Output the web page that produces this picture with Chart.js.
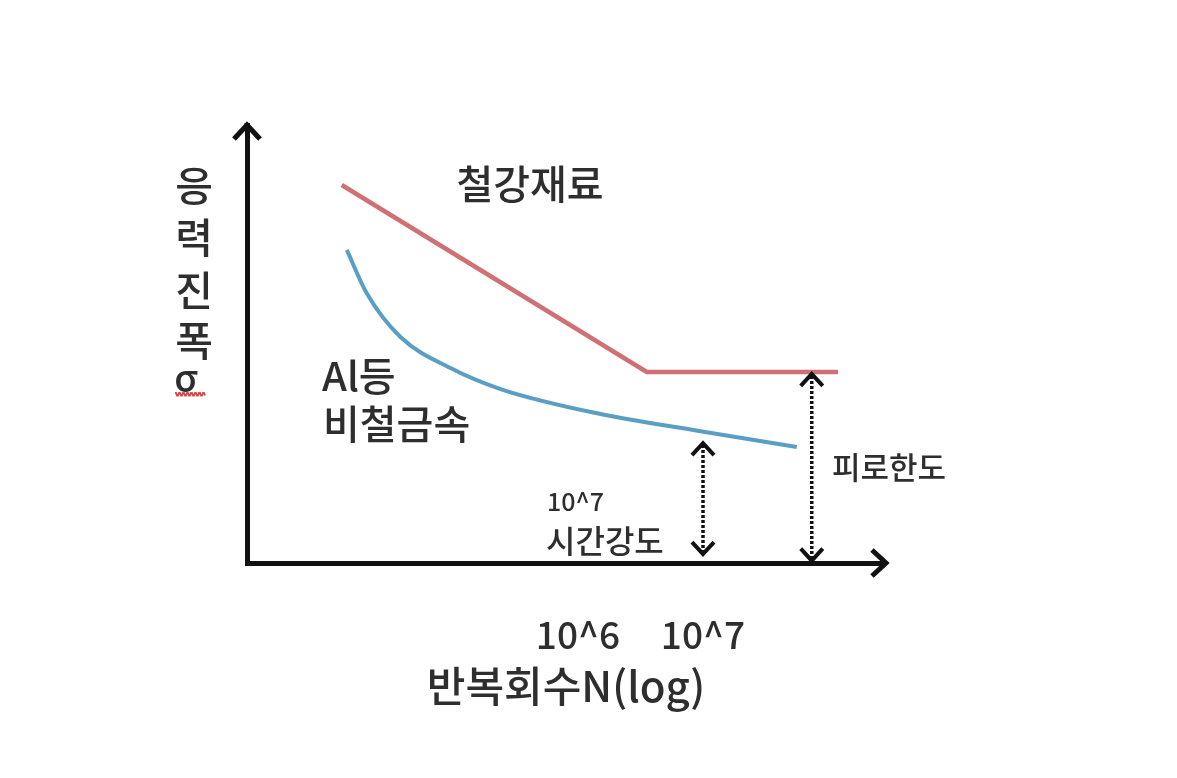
<!DOCTYPE html>
<html><head><meta charset="utf-8">
<script src="https://cdn.jsdelivr.net/npm/chart.js@4.4.0/dist/chart.umd.min.js"></script>
<style>html,body{margin:0;padding:0;background:#fff}#wrap{width:1177px;height:778px}</style>
</head><body><div id="wrap"><canvas id="c" width="1177" height="778"></canvas></div>
<script>
// ---- data (x = log10 N, y = stress amplitude, schematic units) ----
const steelLogN = [4.11, 6.55, 8.08];
const steelStress = [86.3, 43.6, 43.6];
const alLogN = [4.15, 4.31, 4.58, 4.98, 5.38, 6.18, 6.98, 7.75];
const alStress = [71.5, 61.6, 51.6, 44.5, 39.7, 34.0, 30.1, 26.5];
const tickLogN = [6, 7];
const tickLabels = ['10^6', '10^7'];
const limitArrowLogN = [7.0, 7.87];
const limitArrowTop = [27.6, 43.4];
const limitArrowBottom = [1.8, 0.3];
const yTitleChars = ['응', '력', '진', '폭', 'σ'];
const xTitle = '반복회수N(log)';

const FONT = '"Noto Sans CJK KR", "Noto Sans", sans-serif';
const TEXT = '#2e2e2e';
const W = '500 ';

const overlay = {
  id: 'overlay',
  afterDraw(chart) {
    const {ctx, chartArea: a, scales: {x, y}} = chart;
    ctx.save();
    // axis arrowheads
    ctx.strokeStyle = '#111';
    ctx.lineWidth = 5;
    ctx.lineJoin = 'miter';
    ctx.lineCap = 'butt';
    ctx.beginPath();
    ctx.moveTo(a.left, a.top + 4); ctx.lineTo(a.left, a.top - 2);
    ctx.stroke();
    ctx.beginPath();
    ctx.moveTo(a.left - 13, a.top + 14); ctx.lineTo(a.left, a.top); ctx.lineTo(a.left + 13, a.top + 14);
    ctx.stroke();
    ctx.beginPath();
    ctx.moveTo(a.right - 4, a.bottom); ctx.lineTo(a.right + 1, a.bottom);
    ctx.stroke();
    ctx.beginPath();
    ctx.moveTo(a.right - 13, a.bottom - 13); ctx.lineTo(a.right + 1, a.bottom); ctx.lineTo(a.right - 13, a.bottom + 13);
    ctx.stroke();

    // dashed double arrows
    limitArrowLogN.forEach((v, i) => {
      const px = x.getPixelForValue(v);
      const t = y.getPixelForValue(limitArrowTop[i]);
      const b = y.getPixelForValue(limitArrowBottom[i]);
      ctx.strokeStyle = '#111';
      ctx.lineWidth = 3.5;
      ctx.setLineDash([3, 2]);
      ctx.beginPath(); ctx.moveTo(px, t + 3); ctx.lineTo(px, b - 3); ctx.stroke();
      ctx.setLineDash([]);
      ctx.lineWidth = 4;
      ctx.beginPath(); ctx.moveTo(px - 11, t + 13); ctx.lineTo(px, t + 1); ctx.lineTo(px + 11, t + 13); ctx.stroke();
      ctx.beginPath(); ctx.moveTo(px - 11, b - 13); ctx.lineTo(px, b - 1); ctx.lineTo(px + 11, b - 13); ctx.stroke();
    });

    // texts
    ctx.fillStyle = TEXT;
    ctx.textBaseline = 'middle';
    const put = (txt, px, py, size, align) => {
      ctx.font = W + size + 'px ' + FONT;
      ctx.textAlign = align || 'left';
      ctx.fillText(txt, px, py);
    };
    put('철강재료', 530, 184, 40, 'center');
    put('Al등', 322, 376, 40);
    put('비철금속', 323, 424, 40);
    put('10^7', 547, 501, 25);
    put('시간강도', 546, 541, 32);
    put('피로한도', 832, 467, 31);
    const yc = [185, 237, 290, 340, 378];
    yTitleChars.forEach((ch, i) => {
      if (ch === 'σ') put(ch, 186, yc[i], 38, 'center');
      else put(ch, 194, yc[i], 41, 'center');
    });
    // spell-check squiggle under sigma
    ctx.strokeStyle = '#d84848';
    ctx.lineWidth = 1.8;
    ctx.beginPath();
    for (let k = 0; k <= 30; k++) {
      const sx = 175 + k, sy = 393 + (k % 4 < 2 ? 0 : 2.5);
      if (k === 0) ctx.moveTo(sx, sy); else ctx.lineTo(sx, sy);
    }
    ctx.stroke();
    ctx.restore();
  }
};

new Chart(document.getElementById('c'), {
  type: 'line',
  data: {
    datasets: [
      {
        label: '철강재료',
        data: steelLogN.map((v, i) => ({x: v, y: steelStress[i]})),
        borderColor: '#cf7074',
        borderWidth: 4.5,
        pointRadius: 0,
        tension: 0
      },
      {
        label: 'Al등 비철금속',
        data: alLogN.map((v, i) => ({x: v, y: alStress[i]})),
        borderColor: '#5a9ec4',
        borderWidth: 4,
        pointRadius: 0,
        cubicInterpolationMode: 'monotone'
      }
    ]
  },
  options: {
    responsive: false,
    animation: false,
    devicePixelRatio: 1,
    layout: {padding: {top: 125, right: 292, left: 0, bottom: 0}},
    plugins: {legend: {display: false}, tooltip: {enabled: false}},
    scales: {
      x: {
        type: 'linear',
        min: 3.352, max: 8.456,
        grid: {display: false},
        border: {display: true, color: '#111', width: 5},
        afterBuildTicks: s => { s.ticks = tickLogN.map(v => ({value: v})); },
        afterFit: s => { s.height = 215; },
        ticks: {
          padding: 42,
          color: TEXT,
          font: {family: FONT, size: 37, weight: '500'},
          callback: (v) => { const i = tickLogN.indexOf(v); return i >= 0 ? tickLabels[i] : ''; },
          maxRotation: 0, autoSkip: false
        },
        title: {
          display: true, text: xTitle, color: TEXT,
          font: {family: FONT, size: 42, weight: '500'},
          padding: {top: 0, bottom: 67}
        }
      },
      y: {
        type: 'linear',
        min: 0, max: 100,
        grid: {display: false},
        border: {display: true, color: '#111', width: 5},
        ticks: {display: false},
        afterFit: s => { s.width = 247; }
      }
    }
  },
  plugins: [overlay]
});
</script>
</body></html>
